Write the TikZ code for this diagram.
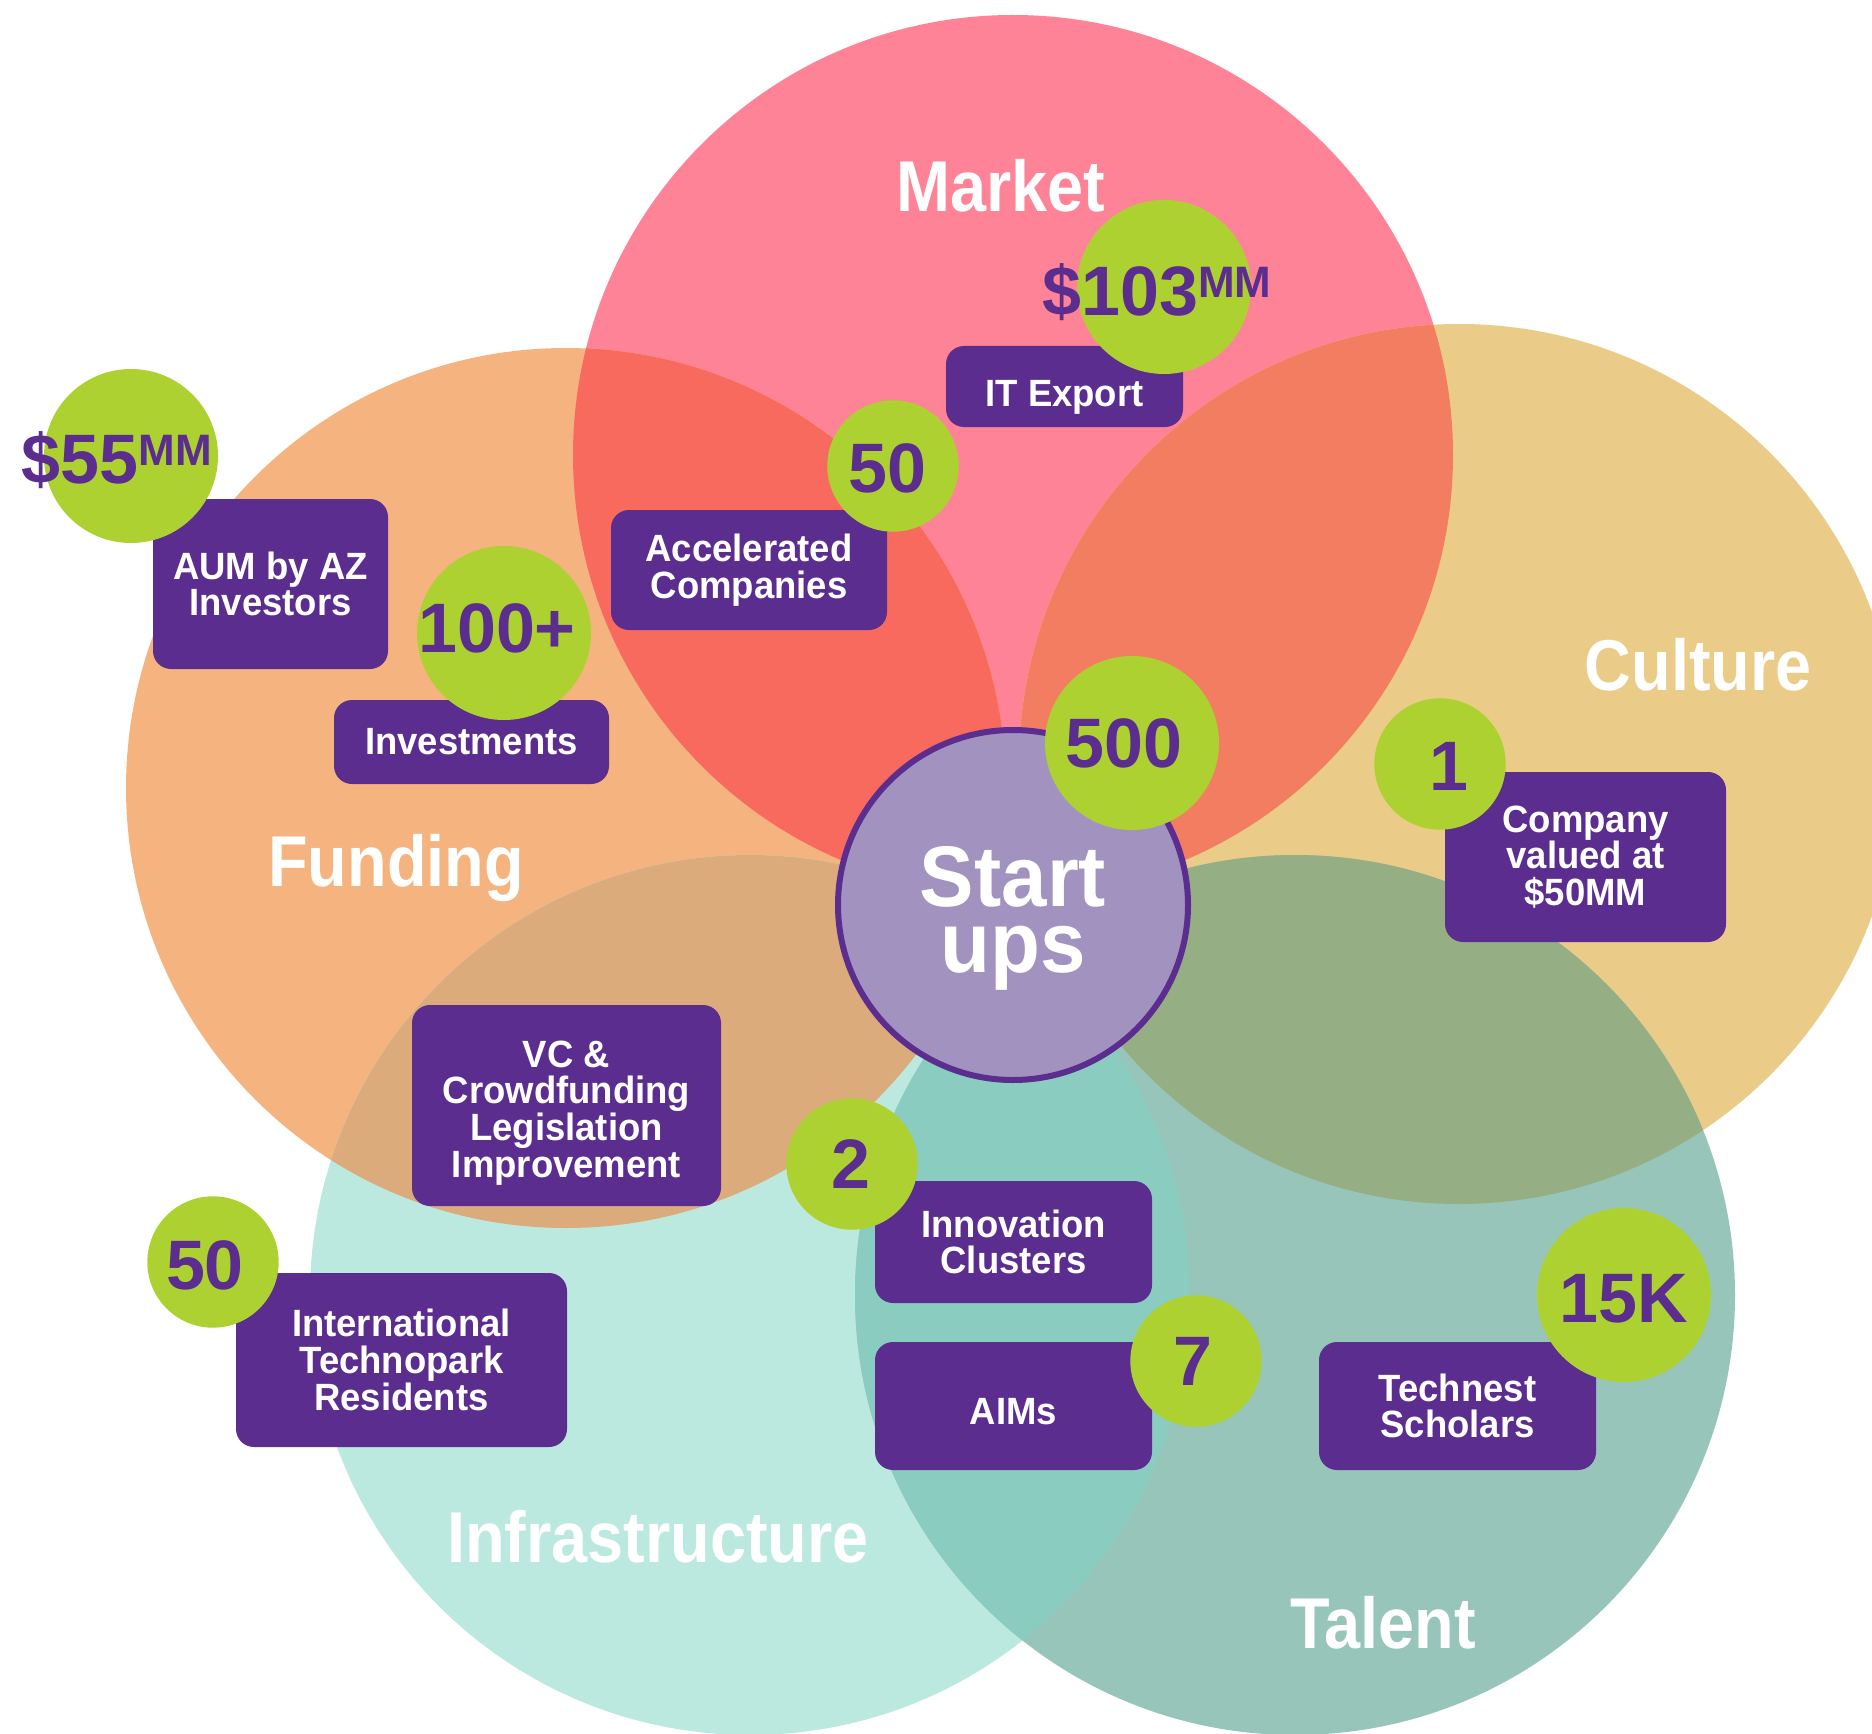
\documentclass[tikz,border=0pt]{standalone}
\usepackage{fontspec}
\setmainfont{Liberation Sans}
\newfontfamily\regfont{Liberation Sans}[FakeStretch=0.9]
\newfontfamily\boxfont{Liberation Sans}[FakeStretch=0.96]
\newfontfamily\sufont{Liberation Sans}[FakeStretch=0.95]
\newfontfamily\numfont{Liberation Sans}
\definecolor{mkt}{HTML}{FE8396}
\definecolor{fund}{HTML}{F5B47F}
\definecolor{cult}{HTML}{EACC88}
\definecolor{infra}{HTML}{BCE9DF}
\definecolor{tal}{HTML}{98C5BA}
\definecolor{mf}{HTML}{F96A5E}
\definecolor{mc}{HTML}{F27D61}
\definecolor{fi}{HTML}{DBAB7B}
\definecolor{ct}{HTML}{96AE83}
\definecolor{itc}{HTML}{8ACDC0}
\definecolor{pur}{HTML}{5B2D8E}
\definecolor{lav}{HTML}{A292BF}
\definecolor{grn}{HTML}{AED132}
\tikzset{
  pbox/.style={fill=pur, rounded corners=9pt, text=white, align=center, inner sep=0pt,
    font=\boxfont\bfseries\fontsize{19}{18.4}\selectfont},
  gbig/.style={circle, fill=grn, minimum size=87pt, inner sep=0pt},
  gsmall/.style={circle, fill=grn, minimum size=65.7pt, inner sep=0pt},
  num/.style={text=pur, inner sep=0pt, font=\numfont\bfseries\fontsize{35}{35}\selectfont},
  reg/.style={text=white, inner sep=0pt, anchor=base, font=\regfont\bfseries\fontsize{36}{36}\selectfont},
  sutext/.style={text=white, inner sep=0pt, align=center, font=\sufont\bfseries\fontsize{43}{33}\selectfont}
}
\begin{document}
\begin{tikzpicture}[x=0.5pt,y=-0.5pt]
\fill[white] (0,0) rectangle (1872,1733);
\useasboundingbox (0,0) rectangle (1872,1733);
% circle centres
\coordinate (cM) at (1013,455);
\coordinate (cF) at (566,788);
\coordinate (cC) at (1459,764);
\coordinate (cI) at (750,1295);
\coordinate (cT) at (1295,1295);
% big circles
\fill[mkt] (cM) circle[radius=220pt];
\fill[fund] (cF) circle[radius=220pt];
\fill[cult] (cC) circle[radius=220pt];
\fill[infra] (cI) circle[radius=220pt];
\fill[tal] (cT) circle[radius=220pt];
% overlaps
\begin{scope}\clip (cM) circle[radius=220pt]; \fill[mf] (cF) circle[radius=220pt];\end{scope}
\begin{scope}\clip (cM) circle[radius=220pt]; \fill[mc] (cC) circle[radius=220pt];\end{scope}
\begin{scope}\clip (cF) circle[radius=220pt]; \fill[fi] (cI) circle[radius=220pt];\end{scope}
\begin{scope}\clip (cC) circle[radius=220pt]; \fill[ct] (cT) circle[radius=220pt];\end{scope}
\begin{scope}\clip (cI) circle[radius=220pt]; \fill[itc] (cT) circle[radius=220pt];\end{scope}
% region labels
\node[reg] (lmarket) at (1001,212) {Market};
\node[reg] (lculture) at (1698,690) {Culture};
\node[reg] (lfunding) at (396,886) {Funding};
\node[reg] (linfra) at (658,1562) {Infrastructure};
\node[reg] (ltalent) at (1383,1648) {Talent};
% start ups
\node[circle, fill=lav, draw=pur, line width=3pt, minimum size=175pt, inner sep=0pt] (startups) at (1013,905) {};
\node[sutext] (sutxt) at (1013,918) {Start\\ups};
% purple boxes
\node[pbox, minimum width=117.5pt, minimum height=85pt] (aum) at (270.5,584) {AUM by AZ\\Investors};
\node[pbox, minimum width=137.5pt, minimum height=42pt] (inv) at (471.5,742) {Investments};
\node[pbox, minimum width=138pt, minimum height=60pt] (acc) at (749,570) {Accelerated\\Companies};
\node[pbox, minimum width=118.5pt, minimum height=40.5pt] (itx) at (1064.5,386.5) {\rule{0pt}{24.3pt}IT Export};
\node[pbox, minimum width=140.5pt, minimum height=85pt] (comp) at (1585.5,857) {Company\\valued at\\\$50MM};
\node[pbox, minimum width=154.5pt, minimum height=100.5pt] (vc) at (566.5,1105.5) {\rule{0pt}{20.8pt}VC \&\\Crowdfunding\\Legislation\\Improvement};
\node[pbox, minimum width=165.5pt, minimum height=87pt] (intl) at (401.5,1360) {International\\Technopark\\Residents};
\node[pbox, minimum width=138.5pt, minimum height=61pt] (innov) at (1013.5,1242) {Innovation\\Clusters};
\node[pbox, minimum width=138.5pt, minimum height=64pt] (aims) at (1013.5,1406) {\rule{0pt}{18.4pt}AIMs};
\node[pbox, minimum width=138.5pt, minimum height=64pt] (tech) at (1457.5,1406) {Technest\\Scholars};
% green circles
\node[gbig] (g55) at (131,456) {};
\node[gbig] (g100) at (504,633) {};
\node[gsmall] (g50a) at (893,466) {};
\node[gbig] (g103) at (1164,287) {};
\node[gbig] (g500) at (1132,743) {};
\node[gsmall] (g1) at (1440,764) {};
\node[gsmall] (g2) at (852,1164) {};
\node[gsmall] (g7) at (1196,1361) {};
\node[gsmall] (g50b) at (213,1262) {};
\node[gbig] (g15) at (1624,1295) {};
% numbers
\node[num] (t500) at (1124,743) {500};
\node[num] (t100) at (497,628) {100+};
\node[num] (t15) at (1624,1299) {15K};
\node[num] (t50a) at (887,468) {50};
\node[num] (t1) at (1449,766) {1};
\node[num] (t2) at (851,1164) {2};
\node[num] (t7) at (1193,1361) {7};
\node[num] (t50b) at (205,1265) {50};
\node[num, anchor=base west] (t103) at (1042,316) {\$103{\fontsize{22}{22}\selectfont\raisebox{9.3pt}{MM}}};
\node[num, anchor=base west] (t55) at (21.5,483.6) {\$55{\fontsize{22}{22}\selectfont\raisebox{9.3pt}{MM}}};
\end{tikzpicture}
\end{document}
